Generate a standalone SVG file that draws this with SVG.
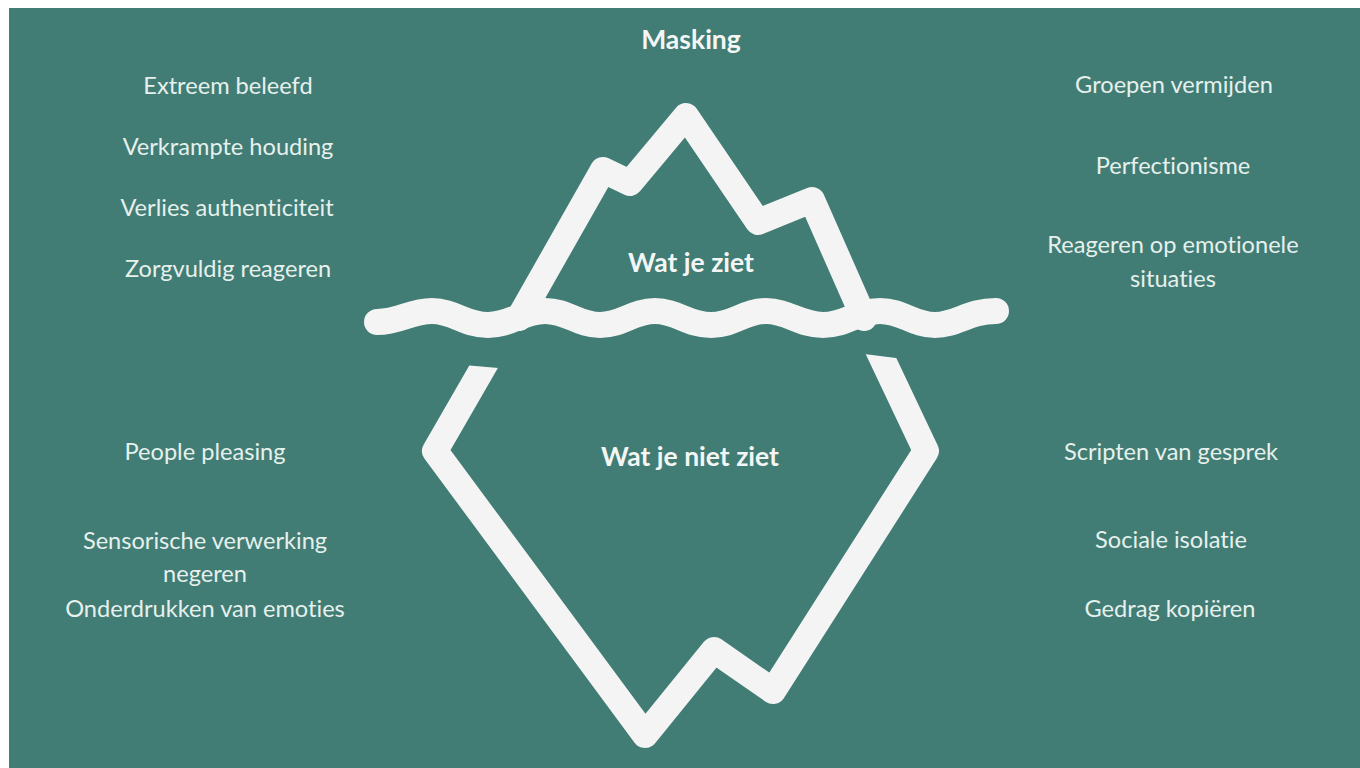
<svg xmlns="http://www.w3.org/2000/svg" width="1360" height="768" viewBox="0 0 1360 768">
<style>
text{font-variant-ligatures:none;font-feature-settings:"liga" 0}
.lbl{font-family:Lato,"Open Sans","Liberation Sans",sans-serif;font-size:23.6px;fill:#e6f0ed;text-anchor:middle}
.ttl{font-family:Lato,"Open Sans","Liberation Sans",sans-serif;font-size:26.5px;font-weight:bold;fill:#f3f6f5;text-anchor:middle}
.ice{fill:none;stroke:#f4f4f4;stroke-width:26;stroke-linejoin:round}
</style>
<defs>
<clipPath id="under"><polygon points="400,359.4 560,373.4 820,348.6 1000,371.1 1000,768 400,768"/></clipPath>
</defs>
<rect x="0" y="0" width="1360" height="768" fill="#ffffff"/>
<rect x="9" y="8" width="1351" height="760" fill="#417d74"/>
<g id="connectors">
<polyline id="tip" class="ice" points="519,318 603,170 630,183 686,116 758,222 812,200 864,318" stroke-linecap="round"/>
<polyline id="base" class="ice" clip-path="url(#under)" points="499,340 435,451 645,735 714,650 773,691 926,451 871,335" stroke-linecap="butt"/>
<path id="water" class="ice" stroke-linecap="round" d="M377,322 C400,322 410,311 432,311 S465,325 488,325 S522,311 545,311 S578,325 600,325 S633,311 655,311 S688,325 711,325 S744,311 766,311 S800,325 823,325 S857,311 880,311 S913,325 935,325 S968,311 996,311"/>
</g>
<g id="title"><text class="ttl" x="691" y="49">Masking</text></g>
<g id="wat-je-ziet"><text class="ttl" x="691" y="272">Wat je ziet</text></g>
<g id="wat-je-niet-ziet"><text class="ttl" x="690" y="466">Wat je niet ziet</text></g>
<g id="n-extreem"><text class="lbl" x="228" y="94">Extreem beleefd</text></g>
<g id="n-verkrampt"><text class="lbl" x="228" y="155">Verkrampte houding</text></g>
<g id="n-verlies"><text class="lbl" x="227" y="216">Verlies authenticiteit</text></g>
<g id="n-zorgvuldig"><text class="lbl" x="228" y="277">Zorgvuldig reageren</text></g>
<g id="n-people"><text class="lbl" x="205" y="460">People pleasing</text></g>
<g id="n-sensorisch"><text class="lbl" x="205" y="549">Sensorische verwerking</text><text class="lbl" x="205" y="582">negeren</text></g>
<g id="n-onderdrukken"><text class="lbl" x="205" y="617">Onderdrukken van emoties</text></g>
<g id="n-groepen"><text class="lbl" x="1174" y="93">Groepen vermijden</text></g>
<g id="n-perfectionisme"><text class="lbl" x="1173" y="174">Perfectionisme</text></g>
<g id="n-reageren"><text class="lbl" x="1173" y="253">Reageren op emotionele</text><text class="lbl" x="1173" y="287">situaties</text></g>
<g id="n-scripten"><text class="lbl" x="1171" y="460">Scripten van gesprek</text></g>
<g id="n-sociale"><text class="lbl" x="1171" y="548">Sociale isolatie</text></g>
<g id="n-gedrag"><text class="lbl" x="1170" y="617">Gedrag kopiëren</text></g>
</svg>
